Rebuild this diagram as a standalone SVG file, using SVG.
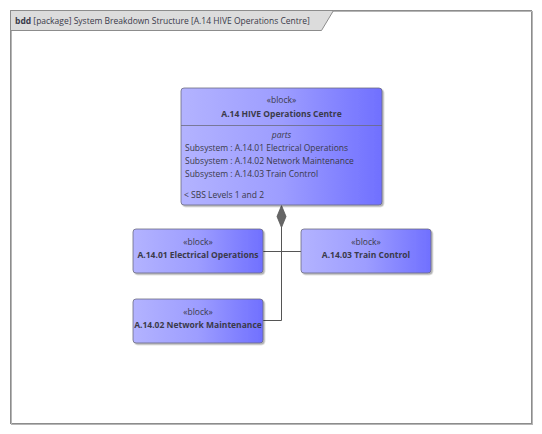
<svg xmlns="http://www.w3.org/2000/svg" width="542" height="434" viewBox="0 0 542 434">
  <defs>
    <linearGradient id="blockFill" x1="0" y1="0" x2="1" y2="0">
      <stop offset="0" stop-color="#b3b3ff"/>
      <stop offset="0.5" stop-color="#9d9dff"/>
      <stop offset="1" stop-color="#7070ff"/>
    </linearGradient>
    <filter id="shadow" x="-5%" y="-5%" width="110%" height="115%">
      <feDropShadow dx="1.5" dy="1.5" stdDeviation="0.6" flood-color="#000" flood-opacity="0.3"/>
    </filter>
  </defs>
  <style>
    text { font-family: "Open Sans", "Liberation Sans", sans-serif; font-size: 8.5px; fill: #3a3a4a; }
    .title { font-weight: bold; }
    .stereo { text-anchor: middle; }
    .name { text-anchor: middle; font-weight: bold; }
    .block { fill: url(#blockFill); stroke: #6b6b80; stroke-width: 0.8; filter: url(#shadow); }
    .conn { stroke: #555; stroke-width: 1; fill: none; }
  </style>

  <rect x="0" y="0" width="542" height="434" fill="#ffffff"/>

  <!-- diagram frame -->
  <g id="frame">
    <rect x="10.5" y="10.5" width="521" height="413" fill="#ffffff" stroke="#8c8c8c" stroke-width="1"/>
    <rect x="11.5" y="11.5" width="521" height="413" fill="none" stroke="#b5b5b5" stroke-width="1"/>
    <path d="M10.5 10.5 H333.5 L321.5 30.5 H10.5 Z" fill="#dcdcdc" stroke="#8c8c8c" stroke-width="1"/>
    <text x="15" y="23.5"><tspan class="title">bdd</tspan> [package] System Breakdown Structure [A.14 HIVE Operations Centre]</text>
  </g>

  <!-- connectors -->
  <g id="connectors">
    <path class="conn" d="M281.5 227 V320.5 H263"/>
    <path class="conn" d="M263 251.5 H301"/>
    <path d="M281.5 205.5 L286 216.5 L281.5 227.5 L277 216.5 Z" fill="#666" stroke="#555" stroke-width="0.8"/>
  </g>

  <g id="hive-operations-centre">
    <rect class="block" x="181" y="88" width="201" height="117" rx="3"/>
    <line x1="181" y1="125.5" x2="382" y2="125.5" stroke="#6b6b80" stroke-width="0.8"/>
    <text class="stereo" x="281.5" y="103">«block»</text>
    <text class="name" x="281.5" y="117">A.14 HIVE Operations Centre</text>
    <text class="stereo" x="281.5" y="137.5" font-style="italic">parts</text>
    <text x="185" y="151">Subsystem : A.14.01 Electrical Operations</text>
    <text x="185" y="164">Subsystem : A.14.02 Network Maintenance</text>
    <text x="185" y="177">Subsystem : A.14.03 Train Control</text>
    <text x="184" y="198">&lt; SBS Levels 1 and 2</text>
  </g>

  <g id="electrical-operations">
    <rect class="block" x="133" y="229" width="130" height="44" rx="3"/>
    <text class="stereo" x="198" y="244.5">«block»</text>
    <text class="name" x="198" y="257.5">A.14.01 Electrical Operations</text>
  </g>

  <g id="train-control">
    <rect class="block" x="301" y="229" width="130" height="44" rx="3"/>
    <text class="stereo" x="366" y="244.5">«block»</text>
    <text class="name" x="366" y="257.5">A.14.03 Train Control</text>
  </g>

  <g id="network-maintenance">
    <rect class="block" x="133" y="299" width="130" height="44" rx="3"/>
    <text class="stereo" x="198" y="314.5">«block»</text>
    <text class="name" x="198" y="327.5">A.14.02 Network Maintenance</text>
  </g>
</svg>
